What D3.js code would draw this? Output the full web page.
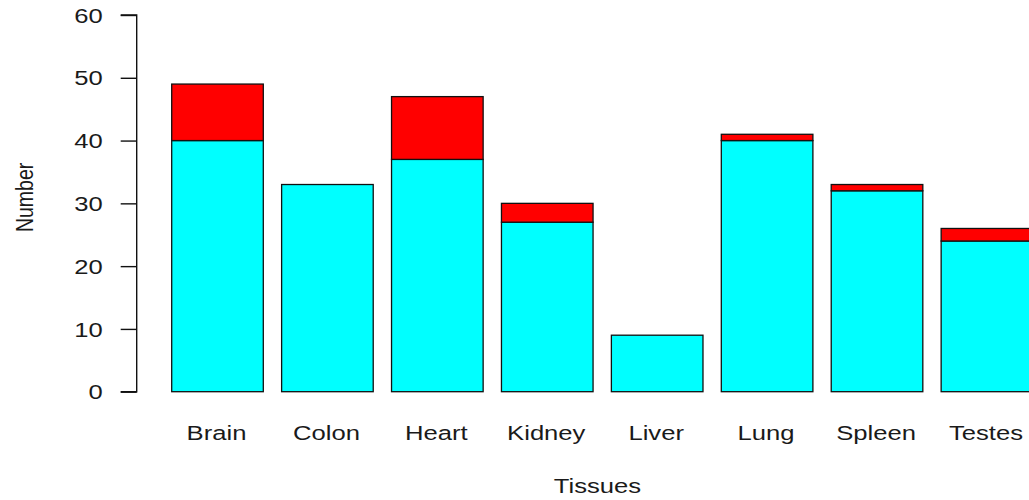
<!DOCTYPE html>
<html>
<head>
<meta charset="utf-8">
<script src="https://cdn.jsdelivr.net/npm/d3@7"></script>
<style>
body { margin: 0; background: #fff; }
text { font-family: "Liberation Sans", Arial, sans-serif; }
</style>
</head>
<body>
<div id="chart"></div>
<script>
// data
const tissues = ["Brain", "Colon", "Heart", "Kidney", "Liver", "Lung", "Spleen", "Testes"];
const lower = [40, 33, 37, 27, 9, 40, 32, 24];   // cyan part
const upper = [9, 0, 10, 3, 0, 1, 1, 2];         // red part on top
const yTicks = [0, 10, 20, 30, 40, 50, 60];

let w = 1029, h = 500;
const unit = 91.6;
const stretch = 1.25; // the reference text is wider than it is tall

const svg = d3.select("#chart").append("svg")
  .attr("width", w)
  .attr("height", h);

const x = d3.scaleBand()
  .domain(tissues)
  .range([171.7 - 0.2 * unit, 171.7 - 0.2 * unit + 9.8 * unit])
  .paddingInner(1 / 6)
  .paddingOuter(1 / 6);

const y = d3.scaleLinear().domain([0, 60]).range([391.7, 15]);

const rows = tissues.map((t, i) => ({ tissue: t, lower: lower[i], upper: upper[i] }));
const stacked = d3.stack().keys(["lower", "upper"])(rows);
const colors = { lower: "#00FFFF", upper: "#FF0000" };

svg.append("g")
  .selectAll("g")
  .data(stacked)
  .join("g")
  .attr("fill", d => colors[d.key])
  .selectAll("rect")
  .data(d => d.filter(p => p[1] > p[0]))
  .join("rect")
  .attr("x", d => x(d.data.tissue))
  .attr("width", x.bandwidth())
  .attr("y", d => y(d[1]))
  .attr("height", d => y(d[0]) - y(d[1]))
  .attr("stroke", "#111")
  .attr("stroke-width", 1.3);

///y axis
const yAxis = d3.axisLeft(y).tickValues(yTicks).tickSize(16);
const ya = svg.append("g")
  .attr("transform", "translate(136.7,0)")
  .call(yAxis);
ya.select(".domain").attr("d", "M-16," + y(60) + "H0V" + y(0) + "H-16").attr("stroke", "#111").attr("stroke-width", 1.4);
ya.selectAll(".tick line").attr("stroke", "#111").attr("stroke-width", 1.4);
ya.selectAll(".tick text")
  .attr("x", -34 / 1.28)
  .attr("dy", "0.36em")
  .attr("transform", "scale(1.28,1)")
  .style("font-size", "20px")
  .attr("fill", "#1a1a1a")
  .style("font-family", "Liberation Sans, Arial, sans-serif");

///x labels
svg.append("g")
  .selectAll("text")
  .data(tissues)
  .join("text")
  .attr("transform", d => "translate(" + (x(d) + x.bandwidth() / 2 - 1) + ",439.5) scale(" + stretch + ",1)")
  .attr("text-anchor", "middle")
  .style("font-size", "20.5px")
  .attr("fill", "#1a1a1a")
  .text(d => d);

svg.append("text")
  .attr("transform", "translate(597.5,493.3) scale(" + stretch + ",1)")
  .attr("text-anchor", "middle")
  .style("font-size", "20.5px")
  .attr("fill", "#1a1a1a")
  .text("Tissues");

svg.append("text")
  .attr("transform", "translate(33.3,197.4) rotate(-90) scale(1," + stretch + ")")
  .attr("text-anchor", "middle")
  .style("font-size", "19.5px")
  .attr("fill", "#1a1a1a")
  .text("Number");
</script>
</body>
</html>
